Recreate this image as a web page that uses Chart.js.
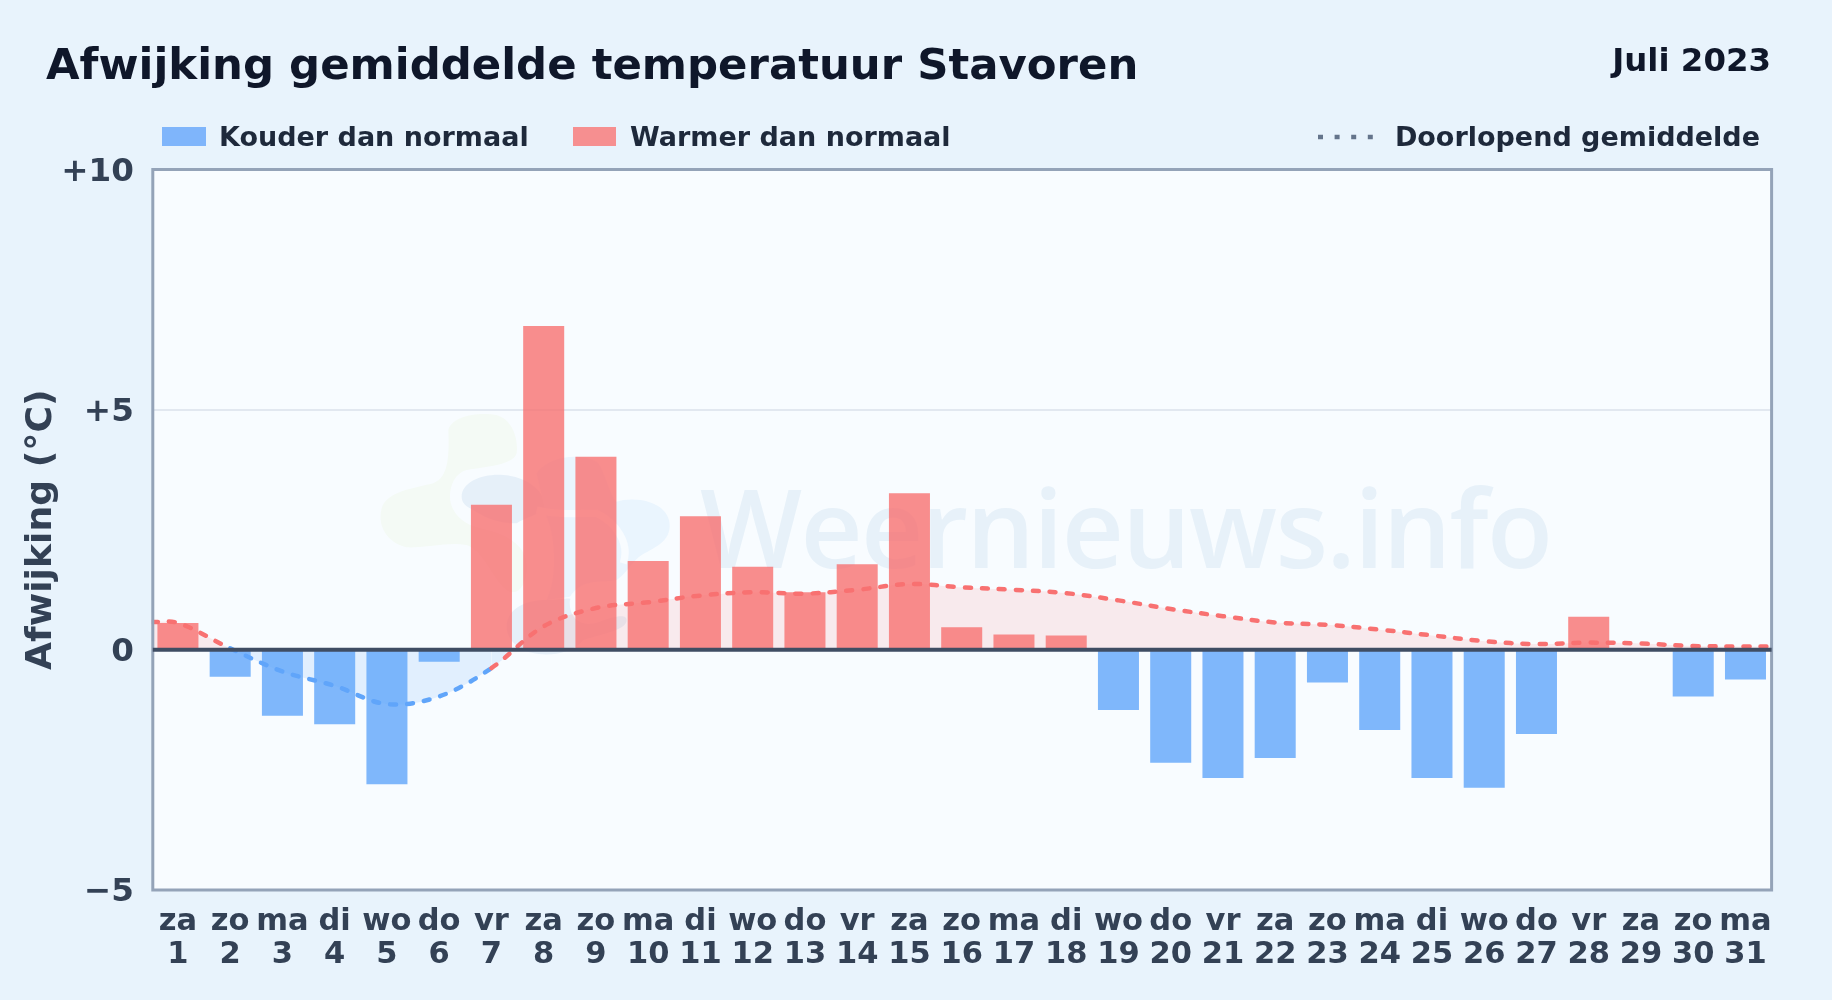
<!DOCTYPE html>
<html><head><meta charset="utf-8">
<script src="https://cdn.jsdelivr.net/npm/chart.js@4"></script>
<style>
html,body{margin:0;padding:0;width:1832px;height:1000px;overflow:hidden;background:#e8f3fc;font-family:"DejaVu Sans",sans-serif;font-weight:700}
.t{position:absolute;white-space:nowrap;line-height:1}
#plotbg{position:absolute;left:153px;top:170px;width:1618px;height:720px;background:#f8fcff}
#wm{position:absolute;left:700px;top:473px;font-family:"Open Sans",sans-serif;font-size:108px;font-weight:600;letter-spacing:-1.7px;color:#e7f1f9;line-height:1;white-space:nowrap}
#logo{position:absolute;left:0;top:0}
canvas{position:absolute;left:0;top:0}
</style></head><body>
<div id="plotbg"></div>
<svg id="logo" width="1832" height="1000"><g transform="translate(370 400) scale(0.3333)">
<path fill="#f4faf5" d="M235 90C245 50 320 35 380 45C430 60 445 120 440 160C430 195 350 200 290 210C255 220 240 255 240 290C240 330 270 370 330 385C400 400 470 430 470 500C470 560 440 590 410 570C370 540 340 450 290 435C230 425 170 445 110 442C55 430 20 380 35 325C50 275 130 265 190 250C225 235 240 200 235 90Z"/>
<path fill="#e6f0f9" d="M275 290C275 245 340 220 400 225C470 230 520 270 530 320C520 340 470 350 440 370C380 370 340 350 310 330C290 320 275 310 275 290Z"/>
<path fill="#eaf5fe" d="M500 220C540 165 630 160 680 185C700 200 720 290 740 305C790 290 880 300 897 360C910 420 860 440 815 465C790 480 770 520 740 540C700 550 640 530 600 590L530 600C560 540 560 420 530 350Z"/>
<path fill="none" stroke="#f8fcff" stroke-width="22" d="M500 330C560 345 620 340 680 340C740 370 780 430 760 490"/>
<path fill="#e6f0f9" d="M410 680C410 630 460 600 530 600C570 600 610 590 600 600C595 640 620 690 690 665C730 650 770 640 770 660C770 690 700 700 640 720C600 770 500 775 450 745C420 725 410 700 410 680Z"/>
</g></svg>
<div id="wm">Weernieuws.info</div>
<canvas id="c" width="1832" height="1000"></canvas>
<div class="t" style="left:46px;top:43px;font-size:43.4px;color:#0f172a">Afwijking gemiddelde temperatuur Stavoren</div>
<div class="t" style="right:61px;top:44px;font-size:32.4px;color:#0f172a">Juli 2023</div>
<div style="position:absolute;left:162px;top:127px;width:44px;height:19px;background:#7fb5fb"></div>
<div class="t" style="left:219px;top:123px;font-size:27px;color:#1e293b">Kouder dan normaal</div>
<div style="position:absolute;left:573px;top:127px;width:43px;height:19px;background:#f68f90"></div>
<div class="t" style="left:630px;top:123px;font-size:27px;color:#1e293b">Warmer dan normaal</div>
<svg style="position:absolute;left:1316px;top:130px" width="60" height="14"><line x1="2" y1="7" x2="58" y2="7" stroke="#64748b" stroke-width="4.5" stroke-dasharray="5 11.6"/></svg>
<div class="t" style="right:72px;top:123px;font-size:27px;color:#1e293b">Doorlopend gemiddelde</div>
<script>
const weekdays=['za','zo','ma','di','wo','do','vr','za','zo','ma','di','wo','do','vr','za','zo','ma','di','wo','do','vr','za','zo','ma','di','wo','do','vr','za','zo','ma'];
const days=[1,2,3,4,5,6,7,8,9,10,11,12,13,14,15,16,17,18,19,20,21,22,23,24,25,26,27,28,29,30,31];
const deviation=[0.56,-0.56,-1.37,-1.55,-2.8,-0.25,3.02,6.74,4.02,1.85,2.78,1.73,1.2,1.78,3.26,0.47,0.32,0.3,-1.25,-2.35,-2.67,-2.25,-0.68,-1.67,-2.67,-2.87,-1.75,0.69,0,-0.97,-0.62];
const avgDays=[0.5,1,2,3,4,5,6,7,8,9,10,11,12,13,14,15,16,17,18,19,20,21,22,23,24,25,26,27,28,29,30,31,31.5];
const avgValues=[0.58,0.56,0.03,-0.45,-0.75,-1.13,-0.97,-0.38,0.49,0.87,0.99,1.13,1.2,1.17,1.25,1.37,1.3,1.25,1.18,1.03,0.85,0.7,0.57,0.52,0.42,0.3,0.18,0.12,0.15,0.13,0.08,0.07,0.07];
const yTicks={'10':'+10','5':'+5','0':'0','-5':'\u22125'};
const colder=deviation.map(v=>v<0?v:null), warmer=deviation.map(v=>v>0?v:null);
const labels=days.map((d,i)=>[weekdays[i],String(d)]);
const frame={id:'frame',afterDatasetsDraw(ch){
  const {ctx,chartArea:a,scales:{y}}=ch;ctx.save();
  ctx.strokeStyle='#94a3b8';ctx.lineWidth=3;ctx.strokeRect(a.left+1,a.top,a.right-a.left-1,a.bottom-a.top);
  const z=y.getPixelForValue(0);ctx.strokeStyle='#3f4d63';ctx.lineWidth=4;ctx.beginPath();ctx.moveTo(a.left+1,z);ctx.lineTo(a.right,z);ctx.stroke();
  ctx.restore();}};
new Chart(document.getElementById('c'),{
 data:{labels,datasets:[
  {type:'line',label:'Doorlopend gemiddelde',xAxisID:'x2',order:0,data:avgDays.map((d,i)=>({x:d,y:avgValues[i]})),
   borderColor:'#f87171',borderWidth:4.5,borderDash:[6,11],borderCapStyle:'round',pointRadius:0,tension:0.35,
   fill:{target:{value:0},above:'rgba(248,113,113,0.13)',below:'rgba(96,165,250,0.15)'},
   segment:{borderColor:c=>c.p1.parsed.y>=0?'#f87171':'#60a5fa'}},
  {type:'bar',label:'Kouder dan normaal',order:1,data:colder,backgroundColor:'rgba(96,165,250,0.8)',grouped:false,barPercentage:0.785,categoryPercentage:1},
  {type:'bar',label:'Warmer dan normaal',order:2,data:warmer,backgroundColor:'rgba(248,113,113,0.8)',grouped:false,barPercentage:0.785,categoryPercentage:1}
 ]},
 options:{responsive:false,animation:false,devicePixelRatio:1,
  layout:{padding:{left:0,top:169.5,right:60.4,bottom:0}},
  plugins:{legend:{display:false},tooltip:{enabled:false}},
  scales:{
   x:{type:'category',grid:{display:false},border:{display:false},
      afterFit(s){s.height=110;},
      ticks:{color:'#334155',font:{family:'DejaVu Sans',size:30.5,weight:'700',lineHeight:1.08},maxRotation:0,autoSkip:false,padding:8}},
   x2:{type:'linear',display:false,min:0.5,max:31.5},
   y:{min:-5,max:10,
      afterFit(s){s.width=151.8;},
      afterBuildTicks(s){s.ticks=Object.keys(yTicks).map(Number).sort((a,b)=>a-b).map(v=>({value:v}));},
      grid:{color:'#e2e8f0',lineWidth:2,drawTicks:false},border:{display:false},
      title:{display:true,text:'Afwijking (\u00B0C)',color:'#334155',font:{family:'DejaVu Sans',size:36.2,weight:'700'},padding:{top:20,bottom:0}},
      ticks:{color:'#334155',padding:18,labelOffset:3,font:{family:'DejaVu Sans',size:32.6,weight:'700'},callback:v=>yTicks[v]}}
  }},
 plugins:[frame]});
</script>
</body></html>
